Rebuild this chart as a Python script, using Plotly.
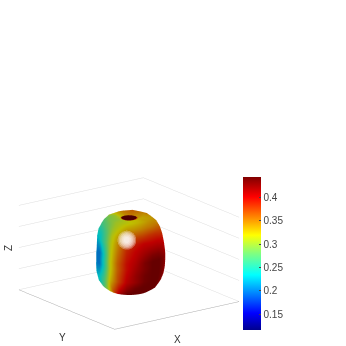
import numpy as np
import plotly.graph_objects as go

azimuth_deg = [0, 40, 80, 120, 140, 155, 170, 185, 200, 215, 230, 245, 260, 275, 290, 305, 320, 335, 360]
elevation_deg = [-90, -80, -70, -60, -50, -40, -30, -20, -10, 0, 10, 20, 30, 40, 50, 60, 70, 76, 82, 90]

radius_rows = [
    [.44]*18,
    [.455]*18,
    [.48]*18,
    [.50,.50,.498,.497,.496,.495,.496,.497,.498,.499,.50,.50,.50,.50,.50,.50,.50,.50],
    [.505,.503,.50,.496,.492,.491,.492,.496,.50,.503,.505,.505,.505,.505,.505,.505,.505,.505],
    [.49,.488,.485,.48,.475,.474,.475,.48,.484,.487,.49,.49,.49,.49,.49,.49,.49,.49],
    [.47,.467,.461,.452,.445,.443,.445,.452,.46,.465,.47,.47,.47,.47,.47,.47,.47,.47],
    [.45,.445,.437,.425,.414,.412,.414,.425,.435,.443,.45,.45,.45,.45,.45,.45,.45,.45],
    [.435,.43,.42,.405,.393,.39,.393,.405,.418,.428,.435,.435,.435,.435,.435,.435,.435,.435],
    [.43,.425,.415,.40,.388,.385,.388,.40,.413,.423,.43,.43,.43,.43,.43,.43,.43,.43],
    [.43,.425,.415,.40,.388,.385,.388,.40,.413,.423,.43,.43,.43,.43,.43,.43,.43,.43],
    [.44,.435,.427,.415,.404,.402,.404,.415,.425,.433,.44,.44,.44,.44,.44,.44,.44,.44],
    [.46,.457,.451,.442,.435,.433,.435,.442,.45,.455,.46,.46,.46,.46,.46,.46,.46,.46],
    [.485,.483,.48,.475,.47,.469,.47,.475,.479,.482,.485,.485,.485,.485,.485,.485,.485,.485],
    [.51,.508,.505,.501,.497,.496,.497,.501,.505,.508,.51,.51,.51,.51,.51,.51,.51,.51],
    [.52,.52,.518,.517,.516,.515,.516,.517,.518,.519,.52,.52,.52,.52,.52,.52,.52,.52],
    [.515,.515,.51,.50,.495,.49,.49,.485,.48,.48,.48,.48,.48,.48,.48,.485,.495,.505],
    [.455]*18,
    [.43]*18,
    [.415]*18,
]
value_rows = [
    [.44]*18,
    [.44]*18,
    [.40,.39,.37,.35,.345,.345,.35,.38,.42,.44,.44,.44,.44,.44,.44,.43,.42,.41],
    [.40,.385,.36,.33,.32,.315,.32,.345,.40,.43,.44,.44,.44,.44,.44,.43,.42,.41],
    [.39,.37,.33,.29,.28,.275,.28,.31,.37,.41,.435,.44,.44,.44,.44,.43,.42,.405],
    [.385,.35,.30,.25,.24,.24,.245,.28,.345,.39,.42,.435,.44,.44,.44,.43,.42,.40],
    [.38,.335,.27,.235,.235,.225,.235,.265,.325,.37,.405,.42,.435,.44,.44,.43,.42,.40],
    [.38,.325,.26,.225,.22,.21,.215,.25,.315,.365,.40,.42,.435,.44,.44,.43,.42,.40],
    [.38,.32,.25,.22,.21,.20,.20,.24,.31,.36,.395,.415,.43,.44,.44,.43,.42,.40],
    [.38,.32,.25,.22,.21,.20,.20,.24,.31,.36,.395,.41,.43,.44,.44,.43,.42,.40],
    [.38,.32,.25,.22,.21,.20,.20,.24,.31,.355,.39,.405,.42,.43,.43,.42,.41,.395],
    [.375,.32,.255,.225,.22,.21,.215,.25,.31,.35,.385,.40,.41,.415,.415,.41,.40,.39],
    [.37,.32,.265,.235,.235,.225,.235,.265,.31,.345,.375,.39,.40,.40,.40,.395,.39,.38],
    [.36,.32,.275,.25,.245,.24,.245,.27,.31,.335,.36,.37,.375,.38,.38,.375,.37,.365],
    [.35,.33,.30,.27,.265,.265,.27,.285,.305,.32,.335,.34,.345,.35,.35,.35,.345,.345],
    [.35,.36,.345,.30,.285,.285,.29,.295,.305,.31,.315,.32,.325,.33,.335,.335,.335,.34],
    [.35,.36,.35,.32,.30,.30,.30,.30,.305,.31,.315,.32,.32,.325,.33,.33,.335,.34],
    [.34,.35,.34,.32,.31,.31,.31,.31,.31,.315,.32,.32,.32,.325,.33,.33,.335,.34],
    [.44]*18,
    [.44]*18,
]
glare_azimuth = 230
glare_elevation = 37
glare_radius = .48
glare_sizes = [11, 9.5, 8, 6.5, 5, 3.5]
spot_azimuth_deg = [0, 30, 60, 90, 120, 150, 180, 210, 240, 270, 300, 330, 360]
spot_elevation_deg = [78, 84, 90]
spot_radius = [.452, .437, .424]

colorbar_ticks = [0.15, 0.2, 0.25, 0.3, 0.35, 0.4]
z_grid_levels = [-.52, -.26, 0, .26, .52]
value_range = [0.116, 0.443]


def to_xyz(radius, az_deg, el_deg):
    az, el = np.meshgrid(np.radians(az_deg), np.radians(el_deg))
    return radius * np.cos(el) * np.cos(az), radius * np.cos(el) * np.sin(az), radius * np.sin(el)


radius = np.array(radius_rows)
values = np.array(value_rows)
radius = np.c_[radius, radius[:, 0]]
values = np.c_[values, values[:, 0]]
x, y, z = to_xyz(radius, azimuth_deg, elevation_deg)

jet = [[0, "#00008f"], [.11, "#0000ff"], [.36, "#00ffff"], [.5, "#80ff80"],
       [.62, "#ffff00"], [.87, "#ff0000"], [1, "#800000"]]
flat = dict(ambient=1, diffuse=0, specular=0, roughness=1, fresnel=0)

surface = go.Surface(
    x=x, y=y, z=z, surfacecolor=values, colorscale=jet,
    cmin=value_range[0], cmax=value_range[1],
    lighting=dict(ambient=.75, diffuse=.45, specular=.4, roughness=.5, fresnel=.05),
    lightposition=dict(x=-3170, y=-4310, z=8460),
    hoverinfo="skip",
    colorbar=dict(
        x=.702, xanchor="left", y=.267, yanchor="middle", len=153, lenmode="pixels",
        thickness=18, thicknessmode="pixels", tickvals=colorbar_ticks,
        ticktext=[str(t) for t in colorbar_ticks], ticks="inside", ticklen=2,
        tickfont=dict(family="Liberation Sans", size=10, color="#444"),
        outlinewidth=0, xpad=0, ypad=0,
    ),
)

sx, sy, sz = to_xyz(np.array(spot_radius)[:, None], spot_azimuth_deg, spot_elevation_deg)
spot = go.Surface(
    x=sx, y=sy, z=sz, surfacecolor=np.zeros_like(sx),
    colorscale=[[0, "#4c0000"], [1, "#4c0000"]], showscale=False, lighting=flat, hoverinfo="skip",
)

gx, gy, gz = to_xyz(np.array([[glare_radius]]), [glare_azimuth], [glare_elevation])
toward_viewer = .15 * np.array([-.565, -.767, .304])
glare = [
    go.Scatter3d(
        x=[gx[0, 0] + toward_viewer[0]], y=[gy[0, 0] + toward_viewer[1]], z=[gz[0, 0] + toward_viewer[2]],
        mode="markers", opacity=.3, hoverinfo="skip",
        marker=dict(size=s, color="white", line=dict(width=0)),
    )
    for s in glare_sizes
]

hidden = dict(showticklabels=False, title="", showbackground=False, ticks="",
              zeroline=False, showspikes=False)
fig = go.Figure([surface, spot] + glare)
font = dict(family="Liberation Sans", size=10, color="#333")
fig.update_layout(
    width=346, height=346, margin=dict(l=0, r=0, t=0, b=0),
    paper_bgcolor="white", showlegend=False,
    scene=dict(
        domain=dict(x=[0, .746], y=[0, .535]),
        xaxis=dict(range=[-.91, .91], showgrid=False, showline=True, linecolor="#aaa", linewidth=1, **hidden),
        yaxis=dict(range=[-.96, .96], showgrid=False, showline=True, linecolor="#aaa", linewidth=1, **hidden),
        zaxis=dict(range=[-.52, .52], tickvals=z_grid_levels, showgrid=True, gridcolor="#ddd", gridwidth=1,
                   showline=False, **hidden),
        aspectmode="manual", aspectratio=dict(x=1.67, y=1.75, z=.957),
        camera=dict(projection=dict(type="orthographic"),
                    center=dict(x=0, y=0, z=0),
                    eye=dict(x=-.8, y=-1.09, z=.43), up=dict(x=0, y=0, z=1)),
    ),
    annotations=[
        dict(text=t, x=px/346, y=1-py/346, xref="paper", yref="paper", showarrow=False,
             xanchor="center", yanchor="middle", textangle=a, font=font)
        for t, px, py, a in [("X", 177, 339, 0), ("Y", 62, 337, 0), ("Z", 8, 248, -90)]
    ],
)
fig.write_html("out.html", config=dict(displayModeBar=False),
               post_script="document.body.style.margin='0';document.body.style.overflow='hidden';")
